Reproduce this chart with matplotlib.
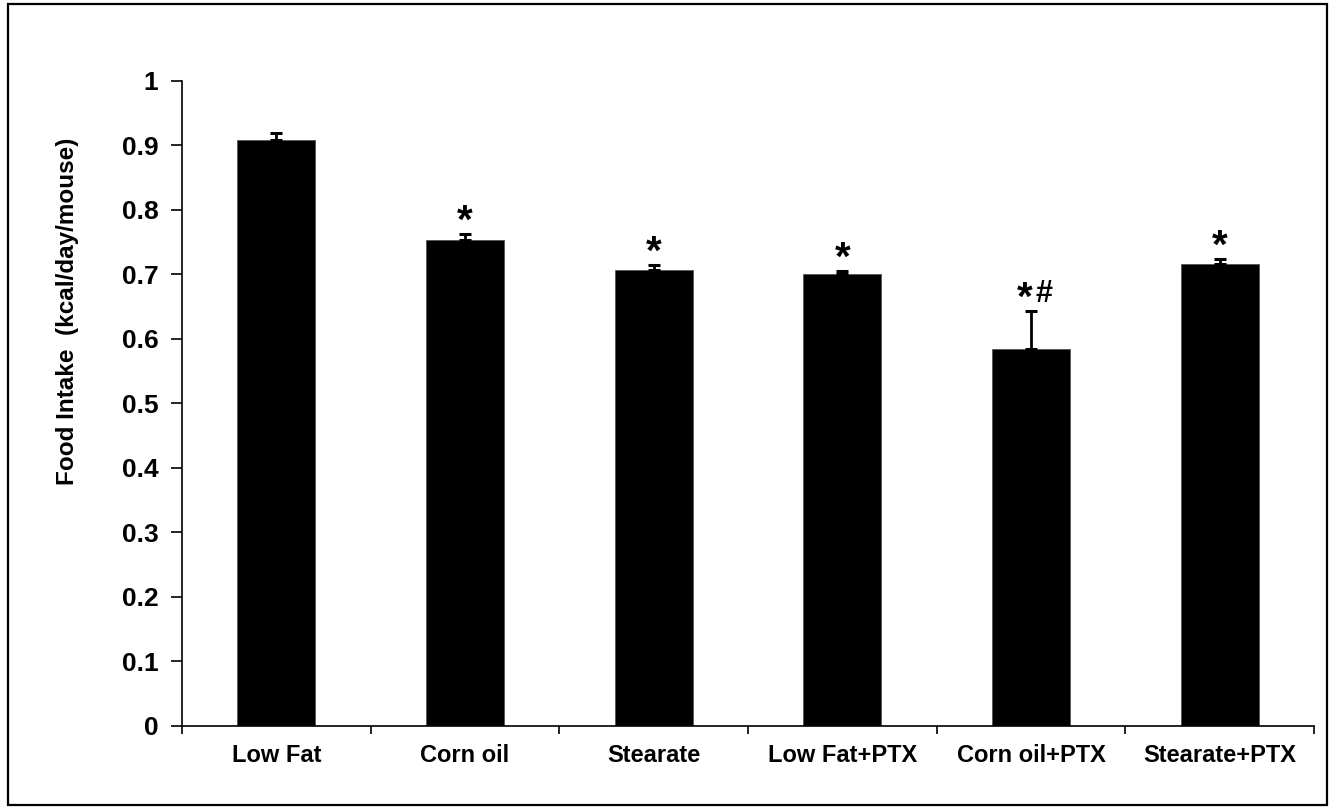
import matplotlib
matplotlib.use('Agg')

import matplotlib.pyplot as plt
import matplotlib.patches as patches
import numpy as np

# data
groups = ['Low Fat', 'Corn oil', 'Stearate', 'Low Fat+PTX', 'Corn oil+PTX', 'Stearate+PTX']
intake = [0.909, 0.754, 0.707, 0.700, 0.584, 0.716]
sem = [0.010, 0.008, 0.007, 0.005, 0.059, 0.008]
marks = ['', '*', '*', '*', '*#', '*']
yticks = [0, 0.1, 0.2, 0.3, 0.4, 0.5, 0.6, 0.7, 0.8, 0.9, 1.0]
ytick_labels = ['0', '0.1', '0.2', '0.3', '0.4', '0.5', '0.6', '0.7', '0.8', '0.9', '1']

plt.rcParams['font.family'] = ['Liberation Sans', 'DejaVu Sans']
plt.rcParams['font.weight'] = 'bold'

fig = plt.figure(figsize=(13.34, 8.09), dpi=100)
ax = fig.add_axes([0.1364, 0.1026, 0.8486, 0.7973])

x = np.arange(len(groups))
ax.bar(x, intake, width=0.413, color='black', edgecolor='#555555', linewidth=0.6)
ax.errorbar(x, intake, yerr=[np.zeros(len(sem)), sem], fmt='none', ecolor='black',
            elinewidth=2.0, capsize=4.5, capthick=2.2)

# significance marks: big asterisk, '#' right next to it
for xi, v, e, m in zip(x, intake, sem, marks):
    if not m:
        continue
    top = v + e
    dx = -4.5 if '#' in m else 0
    ax.annotate('*', (xi, top), xytext=(dx, 1), textcoords='offset points',
                ha='center', va='baseline', fontsize=29, fontweight='bold')
    if '#' in m:
        ax.annotate('#', (xi, top), xytext=(9.5, 7), textcoords='offset points',
                    ha='center', va='baseline', fontsize=22, fontweight='bold')

ax.set_xlim(-0.5, len(groups) - 0.5)
ax.set_ylim(0, 1)

ax.set_yticks(yticks)
ax.set_yticklabels(ytick_labels)
ax.set_xticks(x)
ax.set_xticklabels(groups)
ax.set_xticks(np.arange(len(groups) + 1) - 0.5, minor=True)

ax.tick_params(axis='y', direction='out', length=8, width=1.2, pad=9, labelsize=19)
ax.tick_params(axis='x', which='major', length=0, pad=13, labelsize=17)
ax.tick_params(axis='x', which='minor', direction='out', length=6, width=1.2)

for s in ['top', 'right']:
    ax.spines[s].set_visible(False)
for s in ['left', 'bottom']:
    ax.spines[s].set_linewidth(1.2)

ax.set_ylabel('Food Intake  (kcal/day/mouse)', fontsize=17.5, fontweight='bold')
ax.yaxis.set_label_coords(-0.091, 0.643)

# outer frame around the whole picture
frame = patches.Rectangle((8 / 1334, 4 / 809), 1319 / 1334, 801 / 809,
                          transform=fig.transFigure, fill=False,
                          edgecolor='black', linewidth=1.6)
fig.add_artist(frame)

plt.savefig('out.png', dpi=100)
plt.close(fig)
